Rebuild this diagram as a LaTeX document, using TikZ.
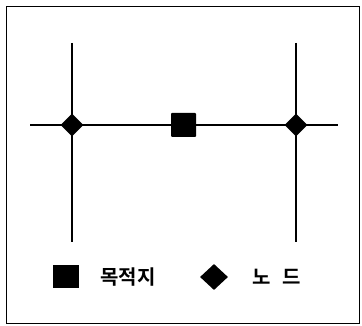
\documentclass[tikz,border=0pt]{standalone}
\usepackage{fontspec}
\newfontfamily\kr{Noto Sans CJK KR Bold}[BoldFont={Noto Sans CJK KR Bold}]
\usetikzlibrary{shapes.geometric}
\tikzset{
  dest/.style={draw=none,fill=black,rectangle,minimum width=25pt,minimum height=24pt,inner sep=0pt,rounded corners=1pt},
  nd/.style={draw=none,fill=black,diamond,minimum width=23pt,minimum height=23pt,inner sep=0pt},
  lbl/.style={font=\kr\fontsize{20}{20}\selectfont,inner sep=0pt},
  road/.style={line width=2.6pt},
  street/.style={line width=1.4pt}
}
\begin{document}
\begin{tikzpicture}[x=1pt,y=-1pt]
\useasboundingbox (0,0) rectangle (362,326);
\draw[line width=0.9pt] (6,6) rectangle (359,323);
\coordinate (hl) at (30,125);
\coordinate (hr) at (338,125);
\coordinate (v1t) at (72,43);
\coordinate (v1b) at (72,242);
\coordinate (v2t) at (296,43);
\coordinate (v2b) at (296,242);
\draw[road] (hl) -- (hr);
\draw[street] (v1t) -- (v1b);
\draw[street] (v2t) -- (v2b);
\node[nd] (n1) at (72,125) {};
\node[nd] (n2) at (296,125) {};
\node[dest] (d) at (183.5,125) {};
\node[dest,minimum width=26pt,minimum height=23pt,rounded corners=0pt] (ld) at (66,276.5) {};
\node[lbl] (t1) at (128,277) {목적지};
\node[nd,minimum width=28pt,minimum height=26pt] (ln) at (214,277) {};
\node[lbl] (t2) at (276.5,277) {노\hspace{0.6em}드};
\end{tikzpicture}
\end{document}
